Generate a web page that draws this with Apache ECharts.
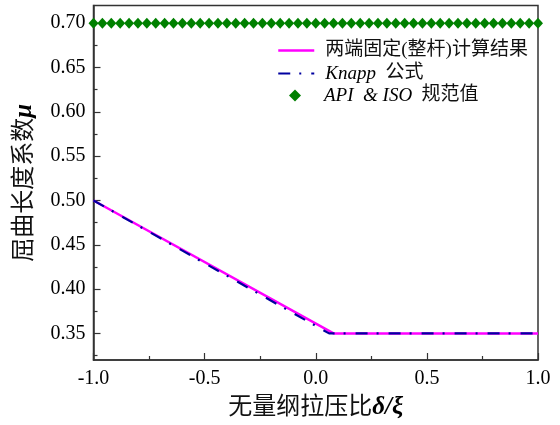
<!DOCTYPE html>
<html>
<head>
<meta charset="utf-8">
<script src="https://cdn.jsdelivr.net/npm/echarts@6/dist/echarts.min.js"></script>
<style>html,body{margin:0;padding:0;background:#fff;}#c{width:560px;height:425px;}</style>
</head>
<body>
<div id="c"></div>
<script>
// ---- data ----
const seriesNames = ['两端固定(整杆)计算结果', 'Knapp 公式', 'API & ISO 规范值'];
const calcX = [-1.0, 0.08, 1.0];
const calcY = [0.50, 0.35, 0.35];
const knappX = [-1.0, 0.06, 1.0];
const knappY = [0.50, 0.35, 0.35];
const apiX = [-1.00,-0.96,-0.92,-0.88,-0.84,-0.80,-0.76,-0.72,-0.68,-0.64,-0.60,-0.56,-0.52,-0.48,-0.44,-0.40,-0.36,-0.32,-0.28,-0.24,-0.20,-0.16,-0.12,-0.08,-0.04,0.00,0.04,0.08,0.12,0.16,0.20,0.24,0.28,0.32,0.36,0.40,0.44,0.48,0.52,0.56,0.60,0.64,0.68,0.72,0.76,0.80,0.84,0.88,0.92,0.96,1.00];
const apiY = [0.70,0.70,0.70,0.70,0.70,0.70,0.70,0.70,0.70,0.70,0.70,0.70,0.70,0.70,0.70,0.70,0.70,0.70,0.70,0.70,0.70,0.70,0.70,0.70,0.70,0.70,0.70,0.70,0.70,0.70,0.70,0.70,0.70,0.70,0.70,0.70,0.70,0.70,0.70,0.70,0.70,0.70,0.70,0.70,0.70,0.70,0.70,0.70,0.70,0.70,0.70];
const yTicks = [0.35, 0.40, 0.45, 0.50, 0.55, 0.60, 0.65, 0.70];
const yMinorTicks = [0.325, 0.375, 0.425, 0.475, 0.525, 0.575, 0.625, 0.675, 0.725];

const pairs = (xs, ys) => xs.map((x, i) => [x, ys[i]]);
const SERIF = "'Liberation Serif','Times New Roman',serif";
const CJK = "'Liberation Serif','Noto Sans CJK SC',serif";
const AX = '#333';
const PINK = '#FF00FF', NAVY = '#0000A0', GREEN = '#008000';
const LEG_FS = 19;
const legendRich = {
  c: {fontFamily: CJK, fontSize: LEG_FS, color: '#111'},
  i: {fontFamily: SERIF, fontStyle: 'italic', fontSize: LEG_FS, color: '#000'}
};
const legendFormatter = function (n) {
  if (n === seriesNames[0]) return '{c|两端固定(整杆)计算结果}';
  if (n === seriesNames[1]) return '{i|Knapp}{c|  公式}';
  return '{i|API  & ISO}{c|  规范值}';
};
const hidden = {color: 'rgba(0,0,0,0)', borderColor: 'rgba(0,0,0,0)', borderWidth: 0};

const chart = echarts.init(document.getElementById('c'), null, {renderer: 'canvas'});
chart.setOption({
  animation: false,
  backgroundColor: '#fff',
  grid: {left: 93.5, right: 22, top: 5.5, bottom: 64.5, show: true, borderColor: AX, borderWidth: 1.5, backgroundColor: 'transparent'},
  legend: [{
    left: 277, top: 41, orient: 'vertical', itemWidth: 36, itemHeight: 10, itemGap: 4, padding: 0,
    data: [
      {name: seriesNames[0], itemStyle: hidden, lineStyle: {color: PINK, width: 2.5}},
      {name: seriesNames[1], itemStyle: hidden, lineStyle: {color: NAVY, width: 2.2, type: [12, 9, 2, 10]}}
    ],
    formatter: legendFormatter,
    textStyle: {fontSize: LEG_FS, lineHeight: 19, padding: [0, 0, 0, 6], rich: legendRich}
  }, {
    left: 289, top: 86, orient: 'vertical', itemWidth: 12, itemHeight: 12, padding: 0,
    data: [{name: seriesNames[2], icon: 'diamond', itemStyle: {color: GREEN, opacity: 1}}],
    formatter: legendFormatter,
    textStyle: {fontSize: LEG_FS, lineHeight: 19, padding: [0, 0, 0, 18], rich: legendRich}
  }],
  xAxis: {
    type: 'value', min: -1, max: 1, interval: 0.5,
    name: '{a|无量纲拉压比}{b|δ/ξ}', nameLocation: 'middle', nameGap: 35,
    nameTextStyle: {rich: {
      a: {fontFamily: CJK, fontSize: 24, color: '#111'},
      b: {fontFamily: SERIF, fontSize: 25, fontStyle: 'italic', fontWeight: 'bold', color: '#000'}
    }},
    axisLine: {onZero: false, lineStyle: {color: AX, width: 1.5}},
    axisTick: {inside: true, length: 7, lineStyle: {color: AX, width: 1.2}},
    minorTick: {show: true, splitNumber: 2, length: 4, lineStyle: {color: AX, width: 1.2}},
    axisLabel: {fontFamily: SERIF, fontSize: 20, color: '#000', margin: 9,
      formatter: v => v.toFixed(1)},
    splitLine: {show: false}, minorSplitLine: {show: false}
  },
  yAxis: [{
    type: 'value', min: 0.32, max: 0.72, position: 'left',
    name: '{a|屈曲长度系数}{b|μ}', nameLocation: 'middle', nameGap: 56, nameRotate: 90,
    nameTextStyle: {rich: {
      a: {fontFamily: CJK, fontSize: 24, color: '#111'},
      b: {fontFamily: SERIF, fontSize: 25, fontStyle: 'italic', fontWeight: 'bold', color: '#000'}
    }},
    axisLine: {show: true, onZero: false, lineStyle: {color: AX, width: 1.5}},
    axisTick: {show: true, inside: true, length: 7, customValues: yTicks, lineStyle: {color: AX, width: 1.2}},
    axisLabel: {fontFamily: SERIF, fontSize: 20, color: '#000', margin: 8, customValues: yTicks,
      formatter: v => v.toFixed(2)},
    splitLine: {show: false}
  }, {
    type: 'value', min: 0.32, max: 0.72, position: 'left', offset: 0,
    axisLine: {show: false, onZero: false},
    axisTick: {show: true, inside: true, length: 4, customValues: yMinorTicks, lineStyle: {color: AX, width: 1.2}},
    axisLabel: {show: false},
    splitLine: {show: false}
  }],
  series: [
    {
      name: seriesNames[0], type: 'line', data: pairs(calcX, calcY), symbol: 'none',
      lineStyle: {color: PINK, width: 2.5}, itemStyle: {color: PINK}, z: 2
    },
    {
      name: seriesNames[1], type: 'line', data: pairs(knappX, knappY), symbol: 'none',
      lineStyle: {color: NAVY, width: 2.2, type: [12, 9, 2, 10]}, itemStyle: {color: NAVY}, z: 3
    },
    {
      name: seriesNames[2], type: 'scatter', data: pairs(apiX, apiY), symbol: 'diamond', symbolSize: [10, 11],
      itemStyle: {color: GREEN, opacity: 1}, z: 4
    }
  ]
});
</script>
</body>
</html>
